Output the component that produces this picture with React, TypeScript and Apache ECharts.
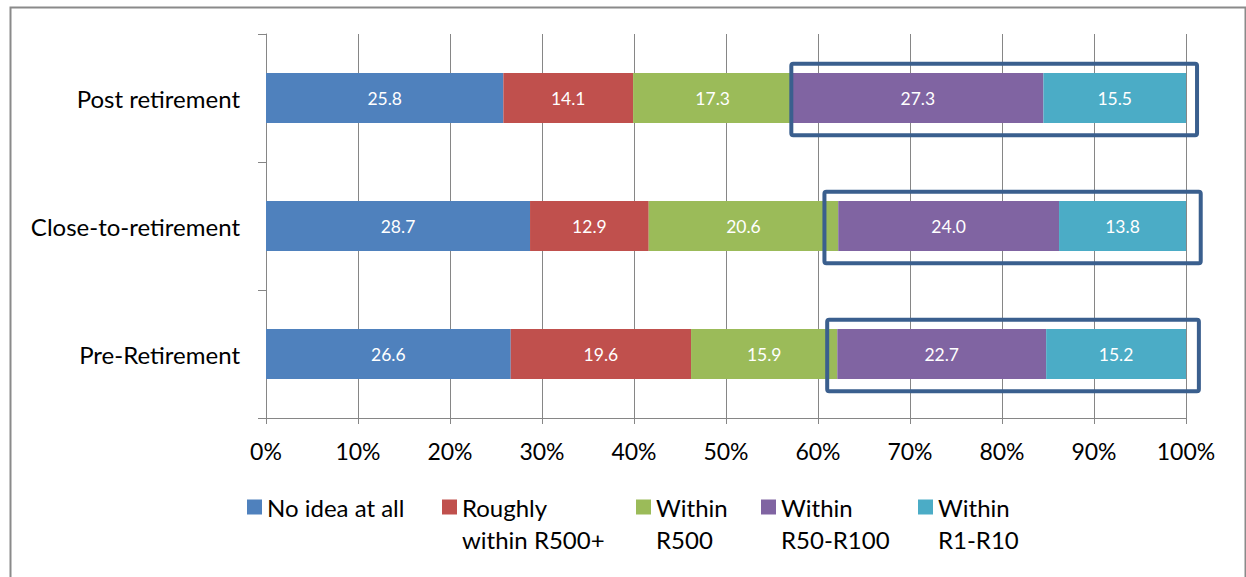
import React, { useEffect, useRef } from "react";
import * as echarts from "echarts";

// Retirement stages, bottom to top on the category axis
const categories = ["Pre-Retirement", "Close-to-retirement", "Post retirement"];

// Series names (line breaks follow the legend wrapping)
const seriesNames = [
  "No idea at all",
  "Roughly\nwithin R500+",
  "Within\nR500",
  "Within\nR50-R100",
  "Within\nR1-R10",
];

// Shares (%) per stage, in the same order as categories
const noIdea = [26.6, 28.7, 25.8];
const roughlyR500plus = [19.6, 12.9, 14.1];
const withinR500 = [15.9, 20.6, 17.3];
const withinR50R100 = [22.7, 24.0, 27.3];
const withinR1R10 = [15.2, 13.8, 15.5];

const seriesValues = [noIdea, roughlyR500plus, withinR500, withinR50R100, withinR1R10];
const seriesColors = ["#4F81BD", "#C0504D", "#9BBB59", "#8064A2", "#4BACC6"];

// Highlight frames around the closest-estimate segments: [start %, end %, category index]
const frameStart = [61.0, 60.7, 57.1];
const frameEnd = [101.4, 101.6, 101.2];

// Tick labels on the value axis
const xTicks = [0, 10, 20, 30, 40, 50, 60, 70, 80, 90, 100];

const FONT = 'Lato, "Open Sans", sans-serif';
const GRID_COLOR = "#868686";

export default function App() {
  const ref = useRef<HTMLDivElement>(null);

  useEffect(() => {
    if (!ref.current) return;
    const chart = echarts.init(ref.current, null, { renderer: "svg" });

    const barSeries = seriesNames.map((name, i) => ({
      name,
      type: "bar",
      stack: "total",
      barWidth: 50,
      data: seriesValues[i],
      itemStyle: { color: seriesColors[i] },
      label: {
        show: true,
        position: "inside",
        color: "#ffffff",
        fontFamily: FONT,
        fontSize: 17.5,
        formatter: (p: any) => Number(p.value).toFixed(1),
      },
      z: 2,
    }));

    const frameData = categories.map((_, i) => [frameStart[i], frameEnd[i], i]);

    const legendLefts = [247, 442, 636, 761, 918];
    const legends = seriesNames.map((name, i) => {
      const multi = name.includes("\n");
      return {
        data: [name],
        left: legendLefts[i],
        top: multi ? 459 : 491,
        padding: 0,
        itemWidth: 15,
        itemHeight: 15,
        icon: "rect",
        selectedMode: false,
        formatter: (n: string) => (n.includes("\n") ? "\n" + n : n),
        textStyle: {
          fontFamily: FONT,
          fontSize: 24,
          color: "#000",
          lineHeight: 32,
        },
      };
    });

    chart.setOption({
      animation: false,
      backgroundColor: "#ffffff",
      grid: { left: 266, right: 60, top: 34, bottom: 159, containLabel: false },
      legend: legends,
      xAxis: {
        type: "value",
        min: 0,
        max: 100,
        interval: 10,
        axisLine: { show: true, lineStyle: { color: GRID_COLOR, width: 1 } },
        axisTick: { show: true, length: 6, lineStyle: { color: GRID_COLOR } },
        splitLine: { show: true, lineStyle: { color: GRID_COLOR, width: 1 } },
        axisLabel: {
          margin: 21,
          fontFamily: FONT,
          fontSize: 23,
          color: "#000",
          formatter: (v: number) => (xTicks.includes(v) ? v + "%" : ""),
        },
      },
      yAxis: {
        type: "category",
        data: categories,
        axisLine: { show: true, lineStyle: { color: GRID_COLOR, width: 1 } },
        axisTick: { show: true, length: 8, lineStyle: { color: GRID_COLOR } },
        splitLine: { show: false },
        axisLabel: {
          margin: 26,
          fontFamily: FONT,
          fontSize: 24,
          color: "#000",
        },
      },
      series: [
        ...barSeries,
        {
          name: "frames",
          type: "custom",
          z: 5,
          silent: true,
          clip: false,
          encode: { x: [0, 1], y: 2 },
          data: frameData,
          renderItem: (params: any, api: any) => {
            const p0 = api.coord([api.value(0), api.value(2)]);
            const p1 = api.coord([api.value(1), api.value(2)]);
            const band = api.size([0, 1])[1];
            const h = band * 0.56;
            return {
              type: "rect",
              shape: { x: p0[0], y: p0[1] - h / 2 + 1.5, width: p1[0] - p0[0], height: h, r: 2 },
              style: { fill: "none", stroke: "#3A5F8E", lineWidth: 4 },
            };
          },
        },
      ],
      graphic: [
        {
          type: "rect",
          left: 8,
          top: 5,
          shape: { width: 1235, height: 600 },
          style: { fill: "none", stroke: "#8A8A8A", lineWidth: 2 },
          silent: true,
          z: 0,
        },
      ],
    });

    return () => chart.dispose();
  }, []);

  return (
    <div
      ref={ref}
      style={{ position: "absolute", left: 0, top: 0, width: 1246, height: 577 }}
    />
  );
}
